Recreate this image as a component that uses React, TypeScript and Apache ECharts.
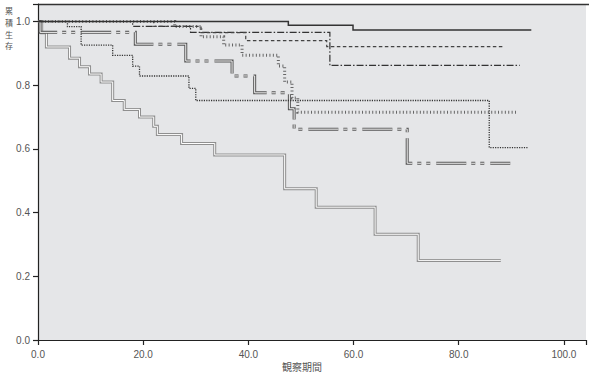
import React, { useEffect, useRef } from "react";
import * as echarts from "echarts";

// Kaplan-Meier style step curves (time, cumulative survival)
const tA = [0, 47.6, 59.9, 93.8];
const vA = [1.0, 0.988, 0.973, 0.973];

const tB = [0, 22, 31, 39.5, 54.9, 88.3];
const vB = [1.0, 0.985, 0.965, 0.94, 0.921, 0.921];

const tC = [0, 18, 29, 55.5, 91.6];
const vC = [1.0, 0.985, 0.966, 0.862, 0.862];

const tD = [0, 5.6, 8.2, 14.2, 18.0, 19.3, 28.7, 30.0, 85.8, 93.3];
const vD = [1.0, 0.984, 0.926, 0.894, 0.86, 0.829, 0.79, 0.752, 0.604, 0.604];

const tE = [0, 26, 31, 35.3, 38.8, 45.7, 46.9, 48.3, 49.4, 91.1];
const vE = [1.0, 0.984, 0.952, 0.926, 0.894, 0.86, 0.81, 0.76, 0.715, 0.715];

const tF = [0, 0.4, 18.5, 28.1, 36.9, 41.2, 47.8, 48.7, 70.2, 89.8];
const vF = [1.0, 0.966, 0.929, 0.876, 0.829, 0.776, 0.726, 0.662, 0.555, 0.555];

const tG = [0, 0.7, 1.6, 6.0, 7.9, 9.8, 12.0, 14.2, 16.4, 19.3, 22.0, 22.7, 27.3, 33.6, 46.9, 52.9, 64.1, 72.3, 88.0];
const vG = [1.0, 0.965, 0.92, 0.885, 0.858, 0.835, 0.81, 0.752, 0.724, 0.7, 0.671, 0.645, 0.617, 0.581, 0.475, 0.417, 0.332, 0.25, 0.25];

const xTicks = [0, 20, 40, 60, 80, 100];
const yTicks = [0, 0.2, 0.4, 0.6, 0.8, 1.0];
const yTitle = "累積生存";
const xTitle = "観察期間";

const pts = (t: number[], v: number[]) => t.map((x, i) => [x, v[i]]);

function stepSeries(data: number[][], color: string, width: number, dash?: number[]) {
  return {
    type: "line",
    step: "end",
    data,
    symbol: "none",
    silent: true,
    lineStyle: { color, width, type: dash ? dash : "solid", cap: "butt", join: "miter" },
  };
}

export default function App() {
  const ref = useRef<HTMLDivElement>(null);
  useEffect(() => {
    if (!ref.current) return;
    const chart = echarts.init(ref.current, undefined, { renderer: "svg" });
    const G = pts(tG, vG);
    const F = pts(tF, vF);
    const D = pts(tD, vD);
    const E = pts(tE, vE);
    const C = pts(tC, vC);
    const B = pts(tB, vB);
    const A = pts(tA, vA);
    const fDash = [30, 5, 4, 5, 4, 6];
    const titleChars = yTitle.split("").map((ch, i) => ({
      type: "text",
      x: 9,
      y: 6.5 + i * 11.8,
      style: {
        text: ch,
        fill: "#555",
        fontSize: 8,
        lineHeight: 8,
        fontFamily: "Noto Sans CJK JP",
        align: "center",
        verticalAlign: "top",
      },
      silent: true,
    }));
    chart.setOption({
      animation: false,
      backgroundColor: "#ffffff",
      grid: {
        left: 38,
        right: 0,
        top: 4,
        bottom: 34,
        show: true,
        backgroundColor: "#e5e6e8",
        borderWidth: 0,
      },
      xAxis: {
        type: "value",
        min: 0,
        max: 104.2,
        interval: 20,
        splitLine: { show: false },
        axisLine: { show: true, lineStyle: { color: "#222", width: 1.2 } },
        axisTick: { show: true, length: 5, lineStyle: { color: "#222", width: 1.2 } },
        axisLabel: {
          color: "#555",
          fontSize: 10,
          fontFamily: "Liberation Sans, Arial, sans-serif",
          margin: 9,
          formatter: (v: number) => (xTicks.some((t) => Math.abs(t - v) < 1e-6) ? v.toFixed(1) : ""),
        },
      },
      yAxis: {
        type: "value",
        min: 0,
        max: 1.055,
        interval: 0.2,
        splitLine: { show: false },
        axisLine: { show: true, lineStyle: { color: "#222", width: 1.2 } },
        axisTick: { show: true, length: 5, lineStyle: { color: "#222", width: 1.2 } },
        axisLabel: {
          color: "#555",
          fontSize: 10,
          fontFamily: "Liberation Sans, Arial, sans-serif",
          margin: 8,
          formatter: (v: number) => (yTicks.some((t) => Math.abs(t - v) < 1e-6) ? v.toFixed(1) : ""),
        },
      },
      series: [
        stepSeries(G, "#8f8f8f", 3),
        stepSeries(G, "#ffffff", 1),
        stepSeries(F, "#555555", 3, fDash),
        stepSeries(F, "#f7f7f7", 1, fDash),
        stepSeries(D, "#333333", 1.3, [1.2, 1.2]),
        stepSeries(E, "#666666", 3, [1, 2.4]),
        stepSeries(C, "#333333", 1.2, [7, 2, 1.5, 2]),
        stepSeries(B, "#444444", 1.2, [3.5, 2.5]),
        stepSeries(A, "#333333", 1.5),
      ],
      graphic: [
        {
          type: "line",
          shape: { x1: 38, y1: 4.5, x2: 589, y2: 4.5 },
          style: { stroke: "#333", lineWidth: 1.5 },
          silent: true,
        },
        ...titleChars,
        {
          type: "text",
          x: 302,
          y: 361,
          style: {
            text: xTitle,
            fill: "#555",
            fontSize: 10,
            fontFamily: "Noto Sans CJK JP",
            align: "center",
            verticalAlign: "top",
          },
          silent: true,
        },
      ],
    });
    return () => chart.dispose();
  }, []);
  return (
    <div
      ref={ref}
      style={{ position: "fixed", left: 0, top: 0, width: 589, height: 374 }}
    />
  );
}
